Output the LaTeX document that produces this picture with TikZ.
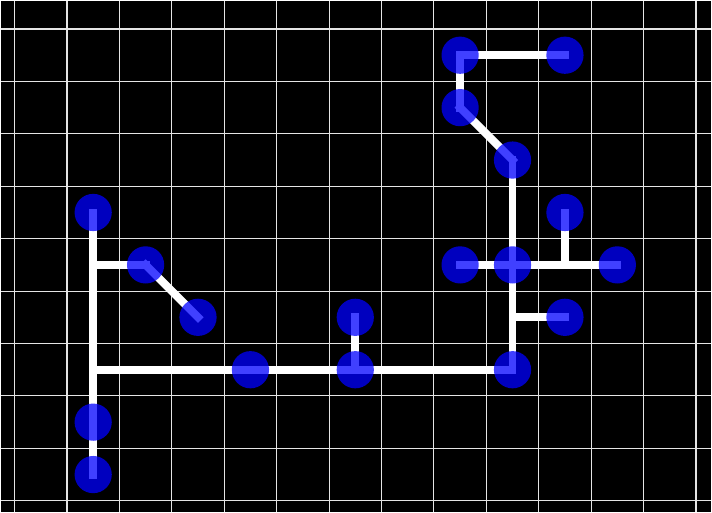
\documentclass[tikz,border=0pt]{standalone}
\usetikzlibrary{backgrounds}

\begin{document}
\begin{tikzpicture}[
  dot/.style={circle, fill=blue, opacity=0.75, minimum size=0.71cm, inner sep=0pt},
  wire/.style={white, line width=4.3pt, line cap=rect},
  gridline/.style={white!90!black, line width=0.6pt}]
  % pads, left part
  \node[dot] (a1) at (1.5,5.5) {};
  \node[dot] (a2) at (2.5,4.5) {};
  \node[dot] (a3) at (3.5,3.5) {};
  \node[dot] (a4) at (4.5,2.5) {};
  \node[dot] (a5) at (6.5,3.5) {};
  \node[dot] (a6) at (6.5,2.5) {};
  \node[dot] (a7) at (1.5,1.5) {};
  \node[dot] (a8) at (1.5,0.5) {};
  % pads, right part
  \node[dot] (b1) at (8.5,8.5) {};
  \node[dot] (b2) at (10.5,8.5) {};
  \node[dot] (b3) at (8.5,7.5) {};
  \node[dot] (b4) at (9.5,6.5) {};
  \node[dot] (b5) at (10.5,5.5) {};
  \node[dot] (b6) at (8.5,4.5) {};
  \node[dot] (b7) at (9.5,4.5) {};
  \node[dot] (b8) at (11.5,4.5) {};
  \node[dot] (b9) at (10.5,3.5) {};
  \node[dot] (b10) at (9.5,2.5) {};
  % bends without pads
  \coordinate (j1) at (1.5,4.5);
  \coordinate (j2) at (1.5,2.5);
  \coordinate (j3) at (9.5,3.5);
  \coordinate (j4) at (10.5,4.5);
  \begin{pgfonlayer}{background}
    % board and grid
    \fill[black] (-0.267,-0.21) rectangle (13.295,9.543);
    \draw[gridline] (-0.267,-0.21) grid (13.295,9.543);
    % wires
    \draw[wire] (a1.center) -- (j1);
    \draw[wire] (j1) -- (a2.center);
    \draw[wire] (a2.center) -- (a3.center);
    \draw[wire] (j1) -- (j2);
    \draw[wire] (j2) -- (a7.center);
    \draw[wire] (a7.center) -- (a8.center);
    \draw[wire] (j2) -- (a4.center);
    \draw[wire] (a4.center) -- (a6.center);
    \draw[wire] (a5.center) -- (a6.center);
    \draw[wire] (a6.center) -- (b10.center);
    \draw[wire] (b10.center) -- (j3);
    \draw[wire] (j3) -- (b9.center);
    \draw[wire] (j3) -- (b7.center);
    \draw[wire] (b6.center) -- (b7.center);
    \draw[wire] (b7.center) -- (j4);
    \draw[wire] (j4) -- (b8.center);
    \draw[wire] (j4) -- (b5.center);
    \draw[wire] (b7.center) -- (b4.center);
    \draw[wire] (b4.center) -- (b3.center);
    \draw[wire] (b3.center) -- (b1.center);
    \draw[wire] (b1.center) -- (b2.center);
  \end{pgfonlayer}
\end{tikzpicture}
\end{document}
